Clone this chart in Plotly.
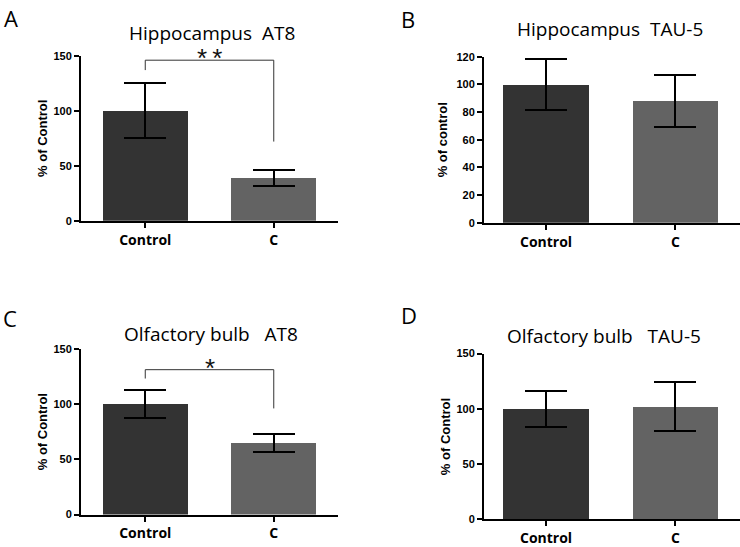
import plotly.graph_objects as go

categories = ["Control", "C"]
titles = ["Hippocampus  AT8", "Hippocampus  TAU-5", "Olfactory bulb   AT8", "Olfactory bulb   TAU-5"]
panel_letters = ["A", "B", "C", "D"]
y_titles = ["% of Control", "% of control", "% of Control", "% of Control"]

means_A = [100, 39]
err_A = [25, 7.5]
means_B = [100, 88]
err_B = [18.5, 18.5]
means_C = [100, 65]
err_C = [12.5, 8]
means_D = [100, 102]
err_D = [16, 22]

y_max = [150, 120, 150, 150]
y_dtick = [50, 20, 50, 50]

# significance brackets
sig_panels = [0, 2]
sig_top = [146, 131]
sig_left = [137, 123]
sig_right = [72, 96]
sig_labels = ["*\u2009*", "*"]

bar_colors = ["#333333", "#636363"]

W, H = 740, 547
# pixel geometry of each axis box (left, right, top, bottom)
boxes = [(81, 338, 51, 220), (484, 740, 52, 222), (81, 338, 351, 521), (484, 740, 356, 526)]
xranges = [[-0.5, 1.5], [-0.48, 1.5], [-0.5, 1.5], [-0.48, 1.5]]
title_pos = [(212, 28), (610, 24), (211, 336), (604, 338)]
letter_pos = [(11, 12), (408, 13), (10, 320), (409, 317)]
y_standoff = [3, 6, 3, 3]

means = [means_A, means_B, means_C, means_D]
errs = [err_A, err_B, err_C, err_D]

fig = go.Figure()
for i in range(4):
    n = "" if i == 0 else str(i + 1)
    fig.add_trace(go.Bar(
        x=[0, 1], y=means[i], width=0.66,
        marker=dict(color=bar_colors, line=dict(width=0)),
        error_y=dict(type="data", array=errs[i], visible=True, color="black",
                     thickness=2, width=21),
        xaxis="x" + n, yaxis="y" + n, showlegend=False,
    ))
    l, r, t, b = boxes[i]
    fig.layout["xaxis" + n] = dict(
        domain=[l / W, r / W], range=xranges[i], anchor="y" + n,
        tickvals=[0, 1], ticktext=categories, showline=True, linecolor="black",
        linewidth=2, ticks="outside", ticklen=5, tickwidth=2, tickcolor="black",
        showgrid=False, zeroline=False, fixedrange=True,
        tickfont=dict(family="Open Sans", size=14, color="black", weight="bold"),
    )
    fig.layout["yaxis" + n] = dict(
        domain=[(H - b) / H, (H - t) / H], range=[0, y_max[i]], anchor="x" + n,
        dtick=y_dtick[i], tick0=0, showline=True, linecolor="black", linewidth=2,
        ticks="outside", ticklen=5, tickwidth=2, tickcolor="black",
        showgrid=False, zeroline=False,
        tickfont=dict(family="Liberation Sans", size=11, color="black", weight="bold"),
        title=dict(text=y_titles[i], standoff=y_standoff[i],
                   font=dict(family="Liberation Sans", size=13, color="black", weight="bold")),
    )
    tx, ty = title_pos[i]
    fig.add_annotation(text=titles[i], xref="paper", yref="paper",
                       x=tx / W, y=(H - ty) / H,
                       showarrow=False, xanchor="center", yanchor="middle",
                       font=dict(family="Open Sans", size=19, color="black"))
    lx, ly = letter_pos[i]
    fig.add_annotation(text=panel_letters[i], xref="paper", yref="paper",
                       x=lx / W, y=(H - ly) / H, showarrow=False,
                       xanchor="center", yanchor="middle",
                       font=dict(family="Open Sans", size=22, color="black"))

for k, p in enumerate(sig_panels):
    n = "" if p == 0 else str(p + 1)
    xr, yr = "x" + n, "y" + n
    fig.add_shape(type="path", xref=xr, yref=yr,
                  path=f"M 0 {sig_left[k]} L 0 {sig_top[k]} L 1 {sig_top[k]} L 1 {sig_right[k]}",
                  line=dict(color="#333333", width=1))
    fig.add_annotation(text=sig_labels[k], xref=xr, yref=yr, x=0.5, y=sig_top[k],
                       showarrow=False, yanchor="middle", yshift=2,
                       font=dict(family="Liberation Sans", size=26, color="#111111"))

fig.update_layout(
    width=W, height=H, margin=dict(l=0, r=0, t=0, b=0),
    paper_bgcolor="white", plot_bgcolor="white", bargap=0,
)
fig.write_html("out.html", config={"displayModeBar": False},
               post_script="document.body.style.margin='0';document.body.style.padding='0';")
